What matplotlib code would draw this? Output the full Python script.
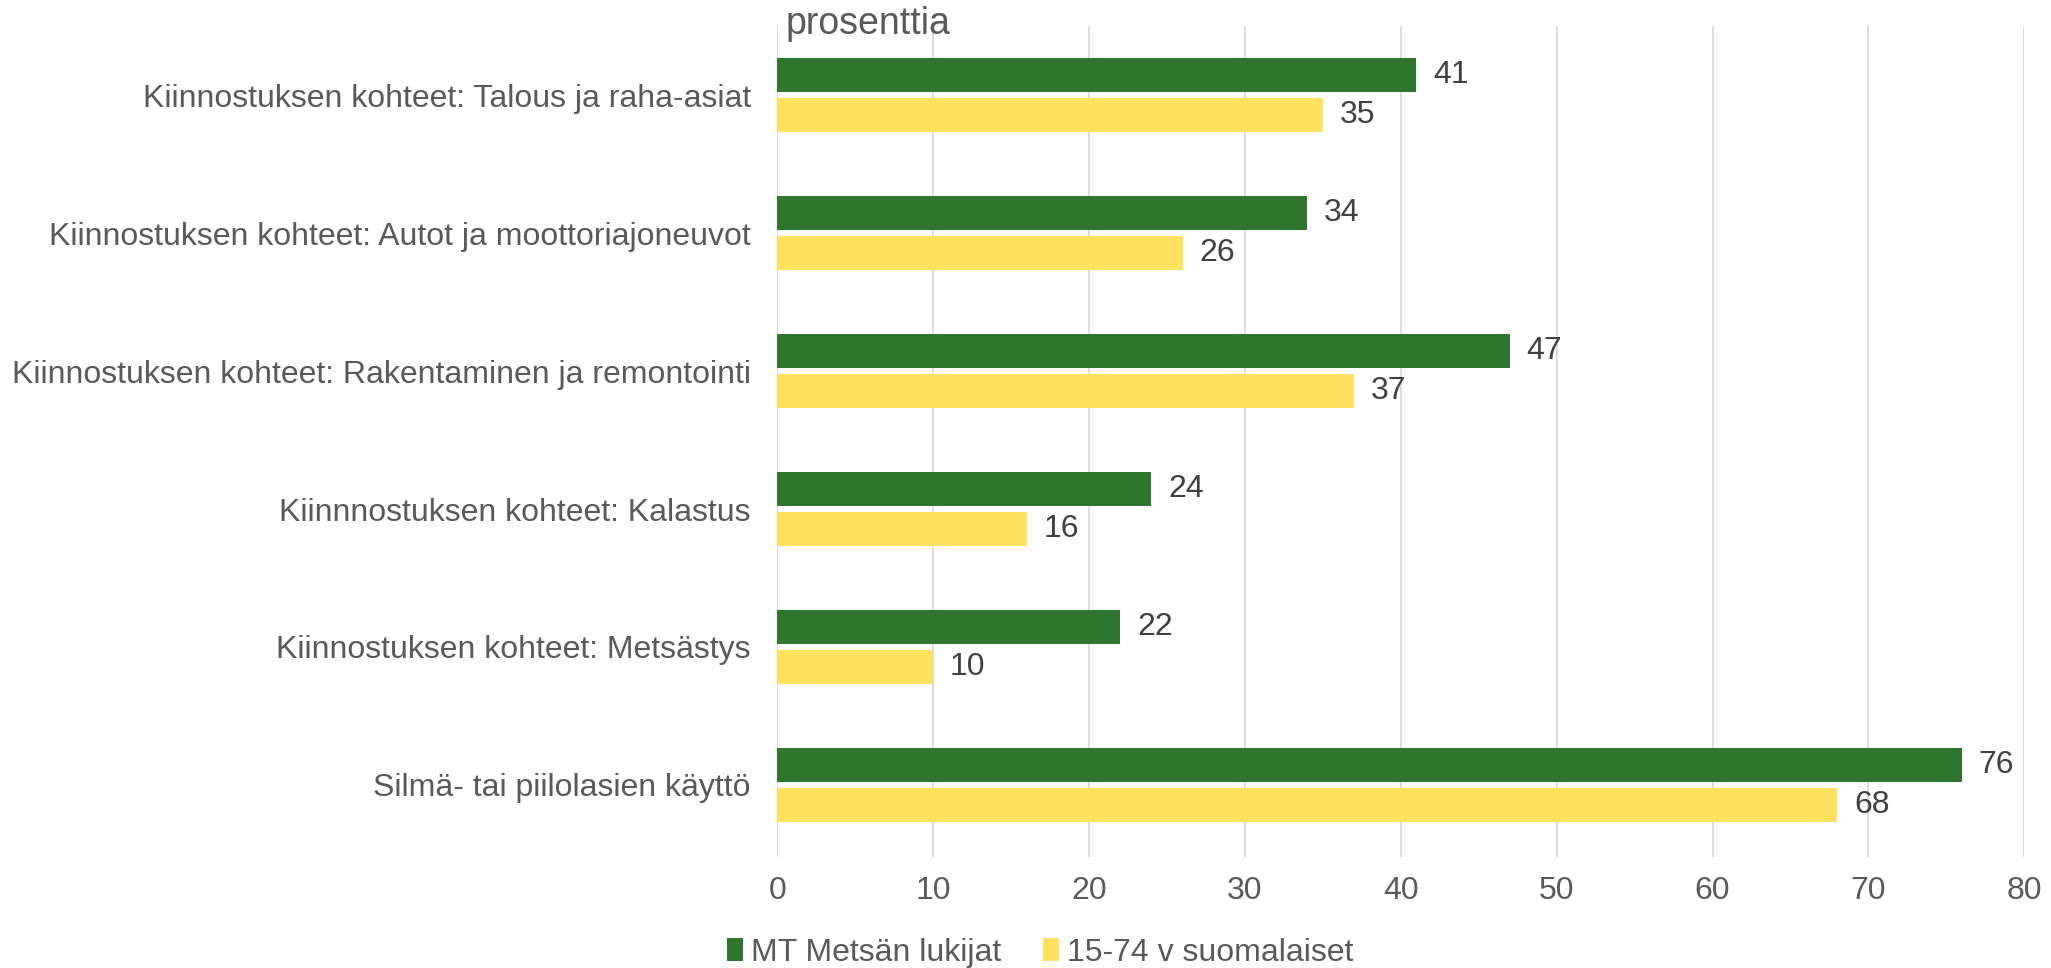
import matplotlib
matplotlib.use("Agg")
import matplotlib.pyplot as plt
import numpy as np

categories = [
    "Kiinnostuksen kohteet: Talous ja raha-asiat",
    "Kiinnostuksen kohteet: Autot ja moottoriajoneuvot",
    "Kiinnostuksen kohteet: Rakentaminen ja remontointi",
    "Kiinnnostuksen kohteet: Kalastus",
    "Kiinnostuksen kohteet: Metsästys",
    "Silmä- tai piilolasien käyttö",
]
series_names = ["MT Metsän lukijat", "15-74 v suomalaiset"]
mt_values = [41, 34, 47, 24, 22, 76]
pop_values = [35, 26, 37, 16, 10, 68]
xticks = [0, 10, 20, 30, 40, 50, 60, 70, 80]

green = "#2E752E"
yellow = "#FFE05F"
text_gray = "#595959"
val_gray = "#404040"

plt.rcParams['font.family'] = ['Liberation Sans', 'DejaVu Sans']

fig = plt.figure(figsize=(20.51, 9.68), dpi=100)
ax = fig.add_axes([0.379, 0.115, 0.608, 0.858])

y = np.arange(len(categories))
h = 0.244
gap = 0.047
off = (h + gap) / 2
b1 = ax.barh(y - off, mt_values, height=h, color=green, label=series_names[0], zorder=3)
b2 = ax.barh(y + off, pop_values, height=h, color=yellow, label=series_names[1], zorder=3)

for bars, vals in ((b1, mt_values), (b2, pop_values)):
    for rect, v in zip(bars, vals):
        ax.annotate(f"{v}", (v, rect.get_y() + rect.get_height() / 2),
                    xytext=(12, 0), textcoords="offset points",
                    va="center", ha="left", fontsize=23, color=val_gray)

ax.set_xlim(0, 80)
ax.set_ylim(5.52, -0.5)
ax.set_xticks(xticks)
ax.set_xticklabels([str(t) for t in xticks])
ax.set_yticks(y)
ax.set_yticklabels(categories)
ax.tick_params(axis='both', length=0, labelsize=23, colors=text_gray)
ax.tick_params(axis='x', pad=14)
ax.tick_params(axis='y', pad=19)
ax.grid(axis='x', color="#D9D9D9", linewidth=1.3, zorder=0)
for s in ax.spines.values():
    s.set_visible(False)

fig.text(0.383, 0.975, "prosenttia", fontsize=27, color=text_gray, va="center", ha="left")

leg = fig.legend(handles=[b1, b2], labels=series_names, loc="center",
                 bbox_to_anchor=(0.507, 0.016), ncol=2, frameon=False,
                 fontsize=23, handlelength=0.5, handleheight=0.7,
                 handletextpad=0.25, columnspacing=1.3, labelcolor=text_gray)

fig.savefig("out.png", dpi=100)
